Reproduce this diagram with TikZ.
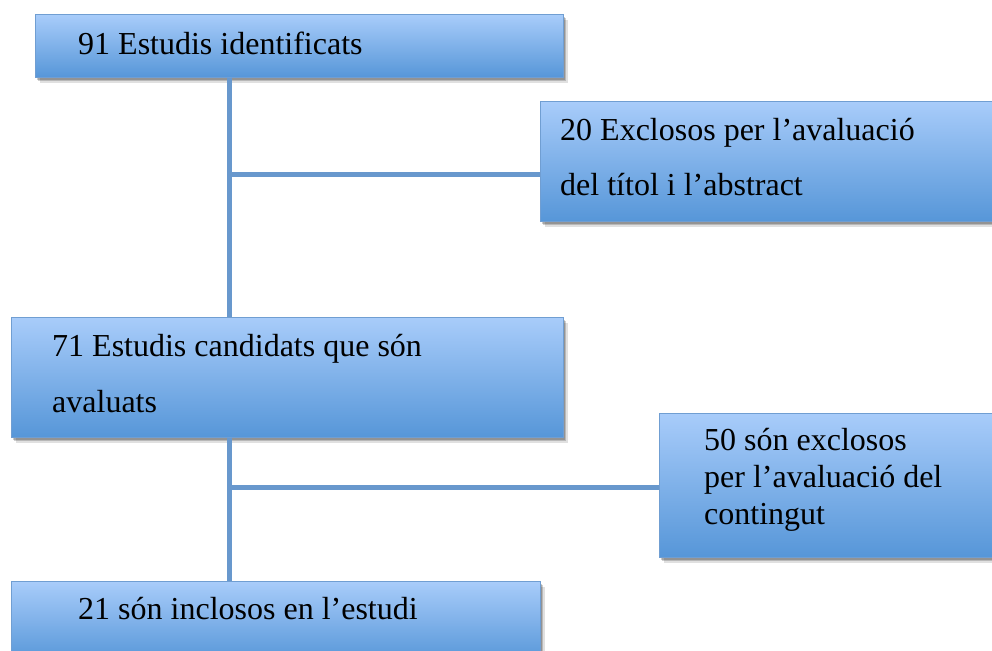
\documentclass[tikz,border=0pt]{standalone}
\usepackage{fontspec}
\setmainfont{Liberation Serif}
\usetikzlibrary{shadows}
\definecolor{boxtop}{RGB}{168,204,250}
\definecolor{boxbot}{RGB}{86,150,216}
\definecolor{boxedge}{RGB}{112,158,210}
\definecolor{linkcol}{RGB}{104,152,205}
\tikzset{
  box/.style={rectangle, draw=boxedge, line width=1.2pt, top color=boxtop, bottom color=boxbot,
    anchor=north west, inner sep=0pt,
    drop shadow={shadow xshift=4pt, shadow yshift=-5pt, opacity=0.12, fill=black},
    drop shadow={shadow xshift=2.5pt, shadow yshift=-3.5pt, opacity=0.18, fill=black},
    drop shadow={shadow xshift=1pt, shadow yshift=-2pt, opacity=0.2, fill=black}},
  txt/.style={anchor=base west, inner sep=0pt, font=\fontsize{32}{38}\selectfont, text=black},
  link/.style={draw=linkcol, line width=5pt}
}
\begin{document}
\begin{tikzpicture}[x=1pt,y=-1pt]
\useasboundingbox (0,0) rectangle (992,650);
\coordinate (j1) at (229,174);
\coordinate (j2) at (229,487);
% boxes
\node[box, minimum width=528pt, minimum height=63pt] (b1) at (35,14) {};
\node[box, minimum width=460pt, minimum height=120pt] (b2) at (540,101) {};
\node[box, minimum width=552pt, minimum height=120pt] (b3) at (11,317) {};
\node[box, minimum width=340pt, minimum height=144pt] (b4) at (659,413) {};
\node[box, minimum width=529pt, minimum height=80pt] (b5) at (11,581) {};
% connectors
\draw[link] (b1.south -| j1) -- (b3.north -| j1);
\draw[link] (j1) -- (b2.west |- j1);
\draw[link] (b3.south -| j2) -- (b5.north -| j2);
\draw[link] (j2) -- (b4.west |- j2);
% texts
\node[txt] (t1) at (78,55) {91 Estudis identificats};
\node[txt] (t2a) at (560,140) {20 Exclosos per l’avaluació};
\node[txt] (t2b) at (560,195) {del títol i l’abstract};
\node[txt] (t3a) at (52,356) {71 Estudis candidats que són};
\node[txt] (t3b) at (52,412) {avaluats};
\node[txt] (t4a) at (704,450) {50 són exclosos};
\node[txt] (t4b) at (704,487) {per l’avaluació del};
\node[txt] (t4c) at (704,524) {contingut};
\node[txt] (t5) at (78,619) {21 són inclosos en l’estudi};
\end{tikzpicture}
\end{document}
